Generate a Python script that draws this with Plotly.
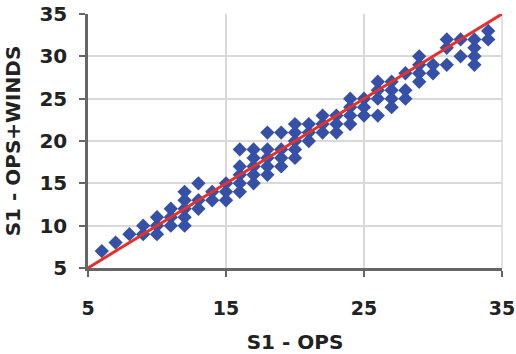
import plotly.graph_objects as go

# S1 - OPS (x) vs S1 - OPS+WINDS (y)
ops = [6, 7, 8, 9, 9, 10, 10, 10, 11, 11, 11,
       12, 12, 12, 12, 12, 13, 13, 13, 14, 14, 15, 15, 15,
       16, 16, 16, 16, 16, 17, 17, 17, 17, 17,
       18, 18, 18, 18, 18, 19, 19, 19, 19,
       20, 20, 20, 20, 20, 21, 21, 21, 22, 22, 22, 23, 23, 23,
       24, 24, 24, 24, 25, 25, 25,
       26, 26, 26, 26, 27, 27, 27, 27, 28, 28, 28,
       29, 29, 29, 29, 30, 30, 31, 31, 31, 32, 32,
       33, 33, 33, 33, 34, 34]
ops_winds = [7, 8, 9, 10, 9, 11, 10, 9, 12, 11, 10,
             14, 13, 12, 11, 10, 15, 13, 12, 14, 13, 15, 14, 13,
             19, 17, 16, 15, 14, 19, 18, 17, 16, 15,
             21, 19, 18, 17, 16, 21, 19, 18, 17,
             22, 21, 20, 19, 18, 22, 21, 20, 23, 22, 21, 23, 22, 21,
             25, 24, 23, 22, 25, 24, 23,
             27, 26, 25, 23, 27, 26, 25, 24, 28, 26, 25,
             30, 29, 28, 27, 29, 28, 32, 31, 29, 32, 30,
             32, 31, 30, 29, 33, 32]

# 1:1 reference line
line_x = [5, 35]
line_y = [5, 35]

x_ticks = [5, 15, 25, 35]
y_ticks = [5, 10, 15, 20, 25, 30, 35]

font_family = "DejaVu Sans, Liberation Sans, Arial, sans-serif"
txt = "#222222"
grid = "#d9d9d9"

fig = go.Figure()
fig.add_trace(go.Scatter(
    x=ops, y=ops_winds, mode="markers",
    marker=dict(symbol="diamond", size=11, color="#3650a8",
                line=dict(width=0)),
    showlegend=False, cliponaxis=False,
))
fig.add_trace(go.Scatter(
    x=line_x, y=line_y, mode="lines",
    line=dict(color="#e8302a", width=3),
    showlegend=False, cliponaxis=False,
))

fig.update_layout(
    width=516, height=354,
    margin=dict(l=88, r=14, t=14, b=86, autoexpand=False),
    paper_bgcolor="white", plot_bgcolor="white",
    font=dict(family=font_family, color=txt),
    shapes=[dict(type="line", xref="paper", yref="paper", x0=1, x1=1, y0=0, y1=1,
                 line=dict(color=grid, width=1.5), layer="below")],
)
fig.update_xaxes(
    range=[5, 35], tickvals=x_ticks, automargin=False,
    showgrid=True, gridcolor=grid, gridwidth=1.5,
    showline=True, linecolor="#666666", linewidth=2.5,
    ticks="outside", ticklen=6, tickcolor="#666666", tickwidth=2,
    ticklabelstandoff=15, ticklabeloverflow="allow",
    tickfont=dict(size=19, weight="bold", color=txt),
    title=dict(text="S1 - OPS", font=dict(size=20, weight="bold", color=txt), standoff=19),
    zeroline=False,
)
fig.update_yaxes(
    range=[5, 35], tickvals=y_ticks, automargin=False,
    showgrid=True, gridcolor=grid, gridwidth=1.5,
    showline=True, linecolor="#666666", linewidth=2.5,
    ticks="outside", ticklen=6, tickcolor="#666666", tickwidth=2,
    ticklabelstandoff=8,
    tickfont=dict(size=20, weight="bold", color=txt),
    title=dict(text="S1 - OPS+WINDS", font=dict(size=20, weight="bold", color=txt), standoff=14),
    zeroline=False,
)

fig.write_html("out.html", config={"displayModeBar": False},
               post_script="document.body.style.margin='0';document.body.style.overflow='hidden';")
